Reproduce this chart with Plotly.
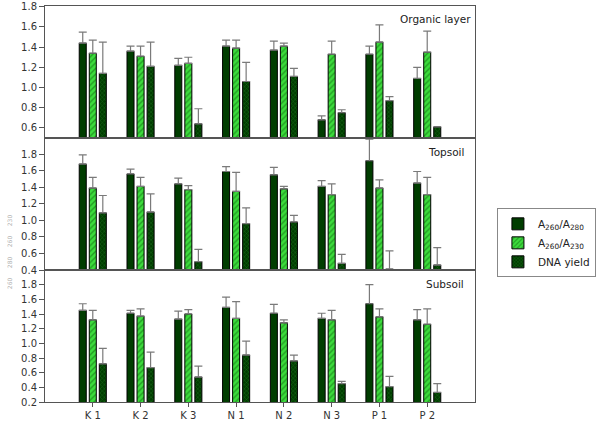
import plotly.graph_objects as go
from plotly.subplots import make_subplots

categories = ["K1", "K2", "K3", "N1", "N2", "N3", "P1", "P2"]
tick_labels = ["K 1", "K 2", "K 3", "N 1", "N 2", "N 3", "P 1", "P 2"]
panel_names = ["Organic layer", "Topsoil", "Subsoil"]
series_names = ["A<sub>260</sub>/A<sub>280</sub>", "A<sub>260</sub>/A<sub>230</sub>", "DNA yield"]

organic_a280 = [1.44, 1.36, 1.22, 1.41, 1.37, 0.68, 1.33, 1.09]
organic_a280_err = [0.11, 0.05, 0.07, 0.06, 0.09, 0.04, 0.08, 0.11]
organic_a230 = [1.34, 1.31, 1.24, 1.39, 1.41, 1.33, 1.45, 1.35]
organic_a230_err = [0.13, 0.10, 0.06, 0.08, 0.03, 0.13, 0.17, 0.21]
organic_dna = [1.14, 1.21, 0.64, 1.06, 1.11, 0.75, 0.87, 0.61]
organic_dna_err = [0.31, 0.24, 0.15, 0.19, 0.08, 0.03, 0.04, 0.0]

topsoil_a280 = [1.68, 1.56, 1.44, 1.59, 1.55, 1.41, 1.72, 1.45]
topsoil_a280_err = [0.11, 0.06, 0.07, 0.06, 0.09, 0.07, 0.26, 0.14]
topsoil_a230 = [1.39, 1.41, 1.37, 1.35, 1.38, 1.31, 1.39, 1.31]
topsoil_a230_err = [0.13, 0.11, 0.05, 0.23, 0.03, 0.13, 0.10, 0.21]
topsoil_dna = [1.09, 1.10, 0.50, 0.96, 0.98, 0.48, 0.41, 0.46]
topsoil_dna_err = [0.21, 0.22, 0.15, 0.19, 0.08, 0.11, 0.22, 0.21]

subsoil_a280 = [1.45, 1.41, 1.33, 1.49, 1.41, 1.34, 1.54, 1.32]
subsoil_a280_err = [0.09, 0.04, 0.11, 0.14, 0.12, 0.07, 0.26, 0.14]
subsoil_a230 = [1.32, 1.37, 1.40, 1.34, 1.28, 1.32, 1.36, 1.26]
subsoil_a230_err = [0.13, 0.10, 0.06, 0.23, 0.04, 0.13, 0.11, 0.21]
subsoil_dna = [0.72, 0.67, 0.54, 0.84, 0.76, 0.45, 0.41, 0.33]
subsoil_dna_err = [0.21, 0.21, 0.15, 0.19, 0.08, 0.03, 0.14, 0.12]

panels = [
    [(organic_a280, organic_a280_err), (organic_a230, organic_a230_err), (organic_dna, organic_dna_err)],
    [(topsoil_a280, topsoil_a280_err), (topsoil_a230, topsoil_a230_err), (topsoil_dna, topsoil_dna_err)],
    [(subsoil_a280, subsoil_a280_err), (subsoil_a230, subsoil_a230_err), (subsoil_dna, subsoil_dna_err)],
]
y_ranges = [[0.5, 1.808], [0.4, 1.995], [0.2, 2.0]]
y_ticks = [[0.6, 0.8, 1.0, 1.2, 1.4, 1.6, 1.8],
           [0.4, 0.6, 0.8, 1.0, 1.2, 1.4, 1.6, 1.8],
           [0.2, 0.4, 0.6, 0.8, 1.0, 1.2, 1.4, 1.6, 1.8]]

DARK = "#003d00"
styles = [
    dict(color=DARK, pattern=dict(shape="")),
    dict(color="#3ddc3d", pattern=dict(shape="/", fgcolor="#0b5e0b", bgcolor="#3ddc3d", size=4, solidity=0.35)),
    dict(color=DARK, pattern=dict(shape="x", fgcolor="#2f922f", bgcolor=DARK, size=3, solidity=0.3)),
]

FONT = "DejaVu Sans"
fig = make_subplots(rows=3, cols=1, shared_xaxes=True, vertical_spacing=0)

for r, panel in enumerate(panels, start=1):
    for i, (vals, errs) in enumerate(panel):
        st = styles[i]
        fig.add_trace(go.Bar(
            x=categories, y=vals, name=series_names[i],
            legendgroup=str(i), showlegend=(r == 1),
            marker=dict(color=st["color"], pattern=st["pattern"],
                        line=dict(color="#000000", width=1)),
            error_y=dict(type="data", symmetric=False, array=errs,
                         arrayminus=[0] * len(errs), color="#7a7a7a",
                         thickness=1.2, width=4),
            cliponaxis=False,
        ), row=r, col=1)

axis_common = dict(showline=True, linecolor="#555555", linewidth=1, mirror=True,
                   showgrid=False, zeroline=False, automargin=False)
for r in range(1, 4):
    fig.update_yaxes(range=y_ranges[r - 1], tickvals=y_ticks[r - 1], tickformat=".1f",
                     ticks="outside", ticklen=5, tickcolor="#555555",
                     ticklabeloverflow="allow",
                     tickfont=dict(family=FONT, size=10, color="#333333"),
                     row=r, col=1, **axis_common)
    fig.update_xaxes(range=[-1, 8], row=r, col=1, **axis_common)

fig.update_xaxes(ticks="outside", ticklen=4, tickcolor="#555555",
                 tickvals=categories, ticktext=tick_labels,
                 tickfont=dict(family=FONT, size=10, color="#333333"), row=3, col=1)

label_y = [0.966, 0.632, 0.298]
label_x = [0.995, 0.979, 0.979]
for k, name in enumerate(panel_names):
    fig.add_annotation(text=name, xref="paper", yref="paper", x=label_x[k], y=label_y[k],
                       xanchor="right", yanchor="middle", showarrow=False,
                       font=dict(family=FONT, size=10.5, color="#222222"))

fig.add_annotation(text="260\u00a0\u00a0\u00a0\u00a0\u00a0280\u00a0\u00a0\u00a0\u00a0\u00a0260\u00a0\u00a0\u00a0\u00a0\u00a0230",
                   xref="paper", yref="paper", x=-0.095, y=0.38, textangle=-90,
                   showarrow=False, font=dict(family=FONT, size=6, color="#b0b0b0"))

fig.update_layout(
    width=598, height=429,
    margin=dict(l=45, r=123, t=6, b=27, autoexpand=False),
    paper_bgcolor="white", plot_bgcolor="white",
    barmode="group", bargap=0.37, bargroupgap=0.3,
    font=dict(family=FONT, size=10, color="#222222"),
    legend=dict(x=1.051, y=0.489, xanchor="left", yanchor="top",
                bordercolor="#888888", borderwidth=1, bgcolor="white",
                font=dict(family=FONT, size=10.5, color="#222222"),
                tracegroupgap=0, itemwidth=30),
)

fig.write_html("out.html")
